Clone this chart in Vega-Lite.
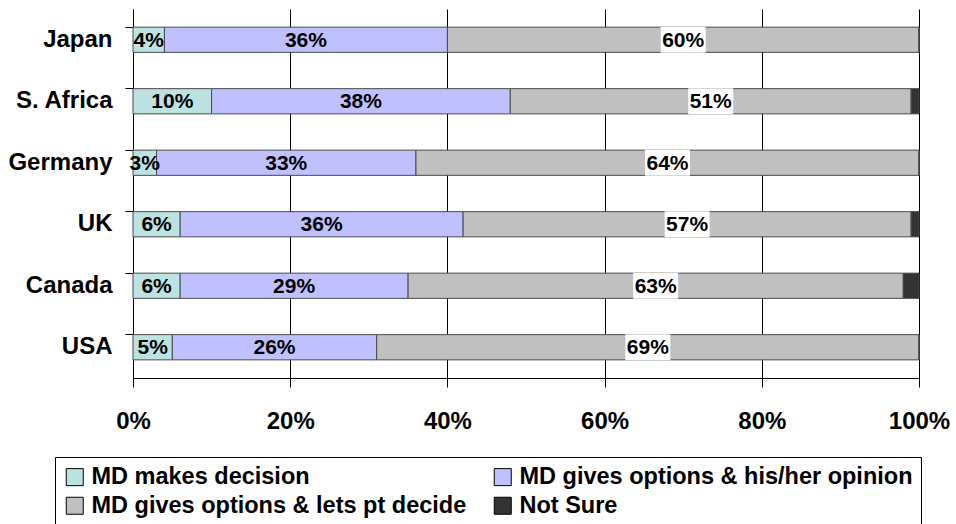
{
  "$schema": "https://vega.github.io/schema/vega-lite/v6.json",
  "width": 786,
  "height": 369,
  "autosize": {"type": "none"},
  "padding": {"left": 133, "top": 9, "right": 37, "bottom": 146},
  "background": "white",
  "config": {"view": {"stroke": null}, "font": "Liberation Sans"},
  "data": {
    "values": [
      {"country": "Japan", "category": "MD makes decision", "order": 1, "value": 0.04},
      {"country": "Japan", "category": "MD gives options & his/her opinion", "order": 2, "value": 0.36},
      {"country": "Japan", "category": "MD gives options & lets pt decide", "order": 3, "value": 0.60},
      {"country": "Japan", "category": "Not Sure", "order": 4, "value": 0.0},
      {"country": "S. Africa", "category": "MD makes decision", "order": 1, "value": 0.10},
      {"country": "S. Africa", "category": "MD gives options & his/her opinion", "order": 2, "value": 0.38},
      {"country": "S. Africa", "category": "MD gives options & lets pt decide", "order": 3, "value": 0.51},
      {"country": "S. Africa", "category": "Not Sure", "order": 4, "value": 0.01},
      {"country": "Germany", "category": "MD makes decision", "order": 1, "value": 0.03},
      {"country": "Germany", "category": "MD gives options & his/her opinion", "order": 2, "value": 0.33},
      {"country": "Germany", "category": "MD gives options & lets pt decide", "order": 3, "value": 0.64},
      {"country": "Germany", "category": "Not Sure", "order": 4, "value": 0.0},
      {"country": "UK", "category": "MD makes decision", "order": 1, "value": 0.06},
      {"country": "UK", "category": "MD gives options & his/her opinion", "order": 2, "value": 0.36},
      {"country": "UK", "category": "MD gives options & lets pt decide", "order": 3, "value": 0.57},
      {"country": "UK", "category": "Not Sure", "order": 4, "value": 0.01},
      {"country": "Canada", "category": "MD makes decision", "order": 1, "value": 0.06},
      {"country": "Canada", "category": "MD gives options & his/her opinion", "order": 2, "value": 0.29},
      {"country": "Canada", "category": "MD gives options & lets pt decide", "order": 3, "value": 0.63},
      {"country": "Canada", "category": "Not Sure", "order": 4, "value": 0.02},
      {"country": "USA", "category": "MD makes decision", "order": 1, "value": 0.05},
      {"country": "USA", "category": "MD gives options & his/her opinion", "order": 2, "value": 0.26},
      {"country": "USA", "category": "MD gives options & lets pt decide", "order": 3, "value": 0.69},
      {"country": "USA", "category": "Not Sure", "order": 4, "value": 0.0}
    ]
  },
  "transform": [
    {"stack": "value", "groupby": ["country"], "sort": [{"field": "order", "order": "ascending"}], "as": ["x0", "x1"]},
    {"calculate": "(datum.x0 + datum.x1) / 2", "as": "xmid"}
  ],
  "encoding": {
    "y": {
      "field": "country",
      "type": "nominal",
      "sort": ["Japan", "S. Africa", "Germany", "UK", "Canada", "USA"],
      "scale": {"paddingInner": 0.59, "paddingOuter": 0.295},
      "axis": {
        "title": null,
        "bandPosition": 0,
        "domainColor": "black",
        "tickColor": "black",
        "tickSize": 8,
        "labelPadding": 13,
        "labelFont": "Liberation Sans",
        "labelFontSize": 24,
        "labelFontWeight": "bold",
        "labelColor": "black"
      }
    }
  },
  "layer": [
    {
      "mark": {"type": "bar", "stroke": "#4a4a4a", "strokeWidth": 1},
      "encoding": {
        "x": {
          "field": "x0",
          "type": "quantitative",
          "scale": {"domain": [0, 1], "nice": false},
          "axis": {
            "title": null,
            "values": [0, 0.2, 0.4, 0.6, 0.8, 1],
            "format": ".0%",
            "grid": true,
            "gridColor": "black",
            "gridOpacity": 1,
            "gridWidth": 1,
            "domainColor": "black",
            "tickColor": "black",
            "tickSize": 9,
            "labelPadding": 22,
            "labelFont": "Liberation Sans",
            "labelFontSize": 24,
            "labelFontWeight": "bold",
            "labelColor": "black",
            "labelFlush": false
          }
        },
        "x2": {"field": "x1"},
        "color": {
          "field": "category",
          "type": "nominal",
          "sort": ["MD makes decision", "MD gives options & his/her opinion", "MD gives options & lets pt decide", "Not Sure"],
          "scale": {
            "domain": ["MD makes decision", "MD gives options & his/her opinion", "MD gives options & lets pt decide", "Not Sure"],
            "range": ["#BDE2E2", "#C0C0FF", "#C0C0C0", "#333333"]
          },
          "legend": {
            "title": null,
            "orient": "none",
            "legendX": -78,
            "legendY": 448,
            "direction": "horizontal",
            "columns": 2,
            "columnPadding": 24,
            "rowPadding": 4,
            "padding": 8,
            "strokeColor": "black",
            "symbolType": "square",
            "symbolSize": 289,
            "symbolStrokeColor": "black",
            "symbolStrokeWidth": 1,
            "labelOffset": 5,
            "labelFont": "Liberation Sans",
            "labelFontSize": 23.5,
            "labelFontWeight": "bold",
            "labelColor": "black",
            "labelLimit": 600
          }
        }
      }
    },
    {
      "transform": [{"filter": "datum.order == 3"}],
      "mark": {"type": "point", "shape": "M-1,-0.58L1,-0.58L1,0.58L-1,0.58Z", "filled": true, "color": "white", "opacity": 1, "size": 2025},
      "encoding": {
        "x": {"field": "xmid", "type": "quantitative"}
      }
    },
    {
      "transform": [{"filter": "datum.order < 4"}],
      "mark": {"type": "text", "fontSize": 21, "fontWeight": "bold", "font": "Liberation Sans", "color": "black", "baseline": "middle", "dy": 1},
      "encoding": {
        "x": {"field": "xmid", "type": "quantitative"},
        "text": {"field": "value", "type": "quantitative", "format": ".0%"}
      }
    }
  ]
}
